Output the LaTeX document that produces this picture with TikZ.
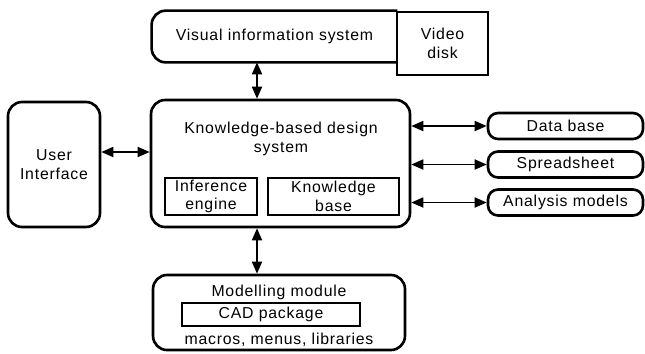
\documentclass[tikz,border=0pt]{standalone}
\usepackage{fontspec}
\setmainfont{Liberation Sans}[LetterSpace=5]
\usetikzlibrary{arrows.meta}

\tikzset{
  box/.style={draw,line width=1.5pt,rounded corners=.28cm,inner sep=0pt},
  pill/.style={draw,line width=1.5pt,rounded corners=.2cm,inner sep=0pt,
    minimum width=3.1cm,minimum height=.52cm},
  sub/.style={draw,line width=.9pt,inner sep=0pt,align=center},
  link/.style={{Triangle[length=.24cm,width=.2cm]}-{Triangle[length=.24cm,width=.2cm]},line width=1pt}
}

\begin{document}
\begin{tikzpicture}[x=.02cm,y=-.02cm,font=\fontsize{9}{10.5}\selectfont]
  \useasboundingbox (0,0) rectangle (645,353);

  % top row
  \node[inner sep=0pt,minimum width=4.9cm,minimum height=1.02cm]
    (vis) at (274.5,36.5) {Visual information system};
  \draw[line width=1.5pt,rounded corners=.28cm]
    (vis.north east) -| (vis.south west) -- (vis.south east);
  \node[sub,line width=1.5pt,minimum width=1.82cm,minimum height=1.26cm]
    (vid) at (442.5,43.5) {Video\\disk};

  % centre
  \node[box,minimum width=5.18cm,minimum height=2.54cm] (kbs) at (280.5,163.5) {};
  \node[align=center] (kbstitle) at (281,139) {Knowledge-based design\\system};
  \node[sub,minimum width=1.84cm,minimum height=.74cm] (inf) at (211,196.5) {Inference\\engine};
  \node[sub,minimum width=2.62cm,minimum height=.74cm] (kb) at (333.5,196.5) {Knowledge\\base};

  \node[box,align=center,minimum width=1.84cm,minimum height=2.5cm]
    (ui) at (54,164.5) {User\\Interface};

  % outside tools
  \node[pill] (db) at (565.5,126) {Data base};
  \node[pill] (ss) at (565.5,164.5) {Spreadsheet};
  \node[pill] (am) at (565.5,202.5) {Analysis models};

  % modelling
  \node[box,minimum width=5.04cm,minimum height=1.5cm] (mm) at (279,312.5) {};
  \node (mmtitle) at (279,292) {Modelling module};
  \node[sub,minimum width=3.56cm,minimum height=.46cm] (cad) at (271,314.5) {CAD package};
  \node (mmlist) at (279,340) {macros, menus, libraries};

  % links
  \coordinate (axis) at (257,0);
  \coordinate (uirow) at (0,152);
  \draw[link] (axis |- vis.south) -- (axis |- kbs.north);
  \draw[link] (axis |- kbs.south) -- (axis |- mm.north);
  \draw[link] (uirow -| ui.east) -- (uirow -| kbs.west);
  \foreach \t in {db,ss,am}
    \draw[link] (kbs.east |- \t) -- (\t.west);
\end{tikzpicture}
\end{document}
